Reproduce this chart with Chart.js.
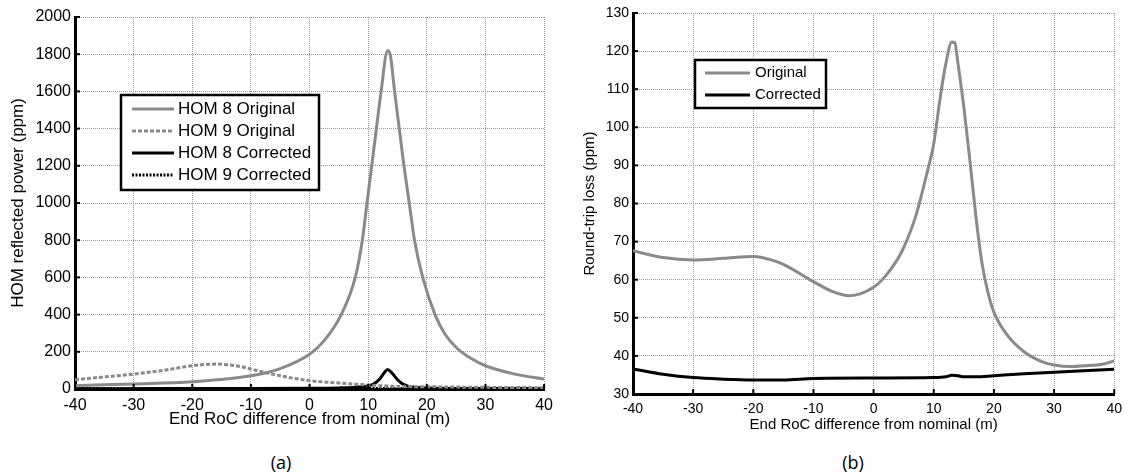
<!DOCTYPE html>
<html>
<head>
<meta charset="utf-8">
<script src="https://cdn.jsdelivr.net/npm/chart.js@4.4.0/dist/chart.umd.min.js"></script>
<style>
  body { margin: 0; background: #fff; }
  #wrap { position: relative; width: 1129px; height: 476px; overflow: hidden; }
  canvas { position: absolute; top: 0; }
  .tag { position: absolute; font-family: "Open Sans", sans-serif; font-size: 18px; color: #000; transform: translate(-50%, -50%); }
</style>
</head>
<body>
<div id="wrap">
  <canvas id="chartA" width="560" height="440" style="left:0"></canvas>
  <canvas id="chartB" width="569" height="440" style="left:560px"></canvas>
  <div class="tag" style="left:281px; top:462px">(a)</div>
  <div class="tag" style="left:853px; top:462px">(b)</div>
</div>
<script>
// (a) HOM reflected power, ppm
const hom8OrigX = [-40, -30, -20, -10, -5, 0, 2.5, 5.4, 7.8, 9, 9.8, 10.6, 11.4, 12.2, 13.3, 13.8, 14.5, 15.3, 16.1, 17, 17.9, 19.3, 21.4, 23, 25.3, 27.5, 30, 35, 40];
const hom8OrigY = [18, 27, 39, 71, 110, 187, 260, 400, 600, 800, 1000, 1200, 1400, 1600, 1818, 1790, 1600, 1400, 1200, 1000, 800, 600, 400, 300, 215, 165, 125, 80, 53];
const hom9OrigX = [-40, -35, -30, -25, -20, -16, -12, -10, -5, 0, 5, 10, 15, 20, 30, 40];
const hom9OrigY = [50, 65, 80, 100, 125, 134, 122, 107, 71, 45, 32, 21, 14, 12, 9, 7];
const hom8CorrX = [-40, -30, -20, -10, 0, 5, 8, 10, 11, 12, 12.8, 13.3, 14, 15, 16, 17, 18, 20, 30, 40];
const hom8CorrY = [2, 2, 3, 3, 4, 6, 10, 17, 28, 55, 90, 105, 88, 50, 25, 13, 9, 6, 3, 2];
const hom9CorrX = [-40, -20, 0, 20, 40];
const hom9CorrY = [3, 3, 3, 2, 2];

// (b) round-trip loss, ppm
const lossOrigX = [-40, -35, -30, -25, -20, -17, -15, -10, -7, -4, 0, 2, 4, 5, 7, 9, 10, 11, 12, 13, 13.5, 14, 15, 16, 17, 18, 19, 20, 22, 25, 28, 30, 33, 35, 38, 40];
const lossOrigY = [67.6, 65.8, 65.2, 65.6, 66.1, 65.2, 64, 59.5, 57, 55.8, 58, 61, 65.4, 68.4, 76.7, 88.8, 95.7, 107, 116.6, 122.4, 122.2, 117, 105.3, 91.4, 76.7, 64.5, 56.7, 51.5, 45.9, 41.1, 38.5, 37.6, 37.2, 37.4, 37.8, 38.7];
const lossCorrX = [-40, -35, -30, -25, -20, -15, -10, 0, 10, 12, 13, 14, 15, 17, 20, 25, 30, 40];
const lossCorrY = [36.6, 35.2, 34.3, 33.9, 33.7, 33.7, 34.1, 34.2, 34.3, 34.5, 34.9, 34.8, 34.5, 34.5, 34.8, 35.3, 35.7, 36.5];

const xTitle = 'End RoC difference from nominal (m)';
const GREY = '#8a8a8a';

function pts(xs, ys) {
    return xs.map((x, i) => ({x: x, y: ys[i]}));
}

function line(label, xs, ys, color, width, dash) {
    return {
        label: label,
        data: pts(xs, ys),
        borderColor: color,
        borderWidth: width,
        borderDash: dash || [],
        pointRadius: 0,
        fill: false,
        cubicInterpolationMode: 'monotone'
    };
}

// legend box drawn inside the plot, like the matlab one
const boxLegend = {
    id: 'boxLegend',
    afterDraw(chart, args, o) {
        const ctx = chart.ctx;
        ctx.save();
        ctx.setLineDash([]);
        ctx.fillStyle = '#fff';
        ctx.fillRect(o.x, o.y, o.w, o.h);
        ctx.lineWidth = 2.5;
        ctx.strokeStyle = '#000';
        ctx.strokeRect(o.x, o.y, o.w, o.h);
        chart.data.datasets.forEach((ds, i) => {
            let y = o.y + o.first + i * o.gap;
            ctx.beginPath();
            ctx.setLineDash(ds.borderDash);
            ctx.strokeStyle = ds.borderColor;
            ctx.lineWidth = ds.borderWidth;
            ctx.moveTo(o.x + o.lineStart, y);
            ctx.lineTo(o.x + o.lineEnd, y);
            ctx.stroke();
            ctx.setLineDash([]);
            ctx.fillStyle = '#000';
            ctx.font = o.font;
            ctx.textBaseline = 'middle';
            ctx.fillText(ds.label, o.x + o.textStart, y);
        });
        ctx.restore();
    }
};

// small inward tick marks on the left and bottom axes
const inTicks = {
    id: 'inTicks',
    afterDatasetsDraw(chart) {
        const {ctx, chartArea, scales} = chart;
        ctx.save();
        ctx.strokeStyle = '#000';
        ctx.lineWidth = 2;
        scales.x.ticks.forEach(t => {
            let px = scales.x.getPixelForValue(t.value);
            ctx.beginPath();
            ctx.moveTo(px, chartArea.bottom);
            ctx.lineTo(px, chartArea.bottom - 5);
            ctx.stroke();
        });
        scales.y.ticks.forEach(t => {
            let py = scales.y.getPixelForValue(t.value);
            ctx.beginPath();
            ctx.moveTo(chartArea.left, py);
            ctx.lineTo(chartArea.left + 5, py);
            ctx.stroke();
        });
        ctx.restore();
    }
};

function axes(cfg) {
    return {
        x: {
            type: 'linear', min: -40, max: 40,
            ticks: {stepSize: 10, color: '#000', padding: cfg.xPad, font: {family: 'Liberation Sans', size: cfg.tick},
                    callback: v => String(v)},
            grid: {color: '#999', lineWidth: 1, drawTicks: false},
            border: {color: '#000', width: 3, dash: [1, 1]},
            title: {display: true, text: xTitle, color: '#000', padding: {top: 0, bottom: cfg.xTitlePad},
                    font: {family: 'Liberation Sans', size: cfg.xTitle}},
            afterFit: s => { s.height = cfg.xHeight; }
        },
        y: {
            min: cfg.yMin, max: cfg.yMax,
            ticks: {stepSize: cfg.yStep, color: '#000', padding: cfg.yPad, font: {family: 'Liberation Sans', size: cfg.tick},
                    callback: v => String(v)},
            grid: {color: '#999', lineWidth: 1, drawTicks: false},
            border: {color: '#000', width: 3, dash: [1, 1]},
            title: {display: true, text: cfg.yTitleText, color: '#000', padding: {top: cfg.yTitlePad, bottom: 0},
                    font: {family: 'Liberation Sans', size: cfg.yTitle}},
            afterFit: s => { s.width = cfg.yWidth; }
        }
    };
}

new Chart(document.getElementById('chartA'), {
    type: 'line',
    data: {
        datasets: [
            line('HOM 8 Original', hom8OrigX, hom8OrigY, GREY, 3),
            line('HOM 9 Original', hom9OrigX, hom9OrigY, GREY, 3, [4, 2]),
            line('HOM 8 Corrected', hom8CorrX, hom8CorrY, '#000', 3),
            line('HOM 9 Corrected', hom9CorrX, hom9CorrY, '#000', 3, [2, 1.5])
        ]
    },
    options: {
        responsive: false,
        animation: false,
        layout: {padding: {left: 0, top: 17, right: 15, bottom: 3}},
        plugins: {
            legend: {display: false},
            tooltip: {enabled: false},
            boxLegend: {x: 121, y: 95, w: 198, h: 95, first: 14, gap: 22, lineStart: 11, lineEnd: 53, textStart: 57,
                        font: '17px "Liberation Sans"'}
        },
        scales: axes({tick: 16, xTitle: 17, yTitle: 17, xPad: 7, yPad: 4, xTitlePad: 7, yTitlePad: 8,
                      xHeight: 48, yWidth: 75, yMin: 0, yMax: 2000, yStep: 200,
                      yTitleText: 'HOM reflected power (ppm)'})
    },
    plugins: [boxLegend, inTicks]
});

new Chart(document.getElementById('chartB'), {
    type: 'line',
    data: {
        datasets: [
            line('Original', lossOrigX, lossOrigY, GREY, 3),
            line('Corrected', lossCorrX, lossCorrY, '#000', 3)
        ]
    },
    options: {
        responsive: false,
        animation: false,
        layout: {padding: {left: 0, top: 13, right: 8, bottom: 0}},
        plugins: {
            legend: {display: false},
            tooltip: {enabled: false},
            boxLegend: {x: 135, y: 60, w: 131, h: 48, first: 13, gap: 22, lineStart: 10, lineEnd: 55, textStart: 60,
                        font: '15px "Liberation Sans"'}
        },
        scales: axes({tick: 14, xTitle: 15, yTitle: 15, xPad: 7, yPad: 4, xTitlePad: 6, yTitlePad: 21,
                      xHeight: 46, yWidth: 73, yMin: 30, yMax: 130, yStep: 10,
                      yTitleText: 'Round-trip loss (ppm)'})
    },
    plugins: [boxLegend, inTicks]
});
</script>
</body>
</html>
